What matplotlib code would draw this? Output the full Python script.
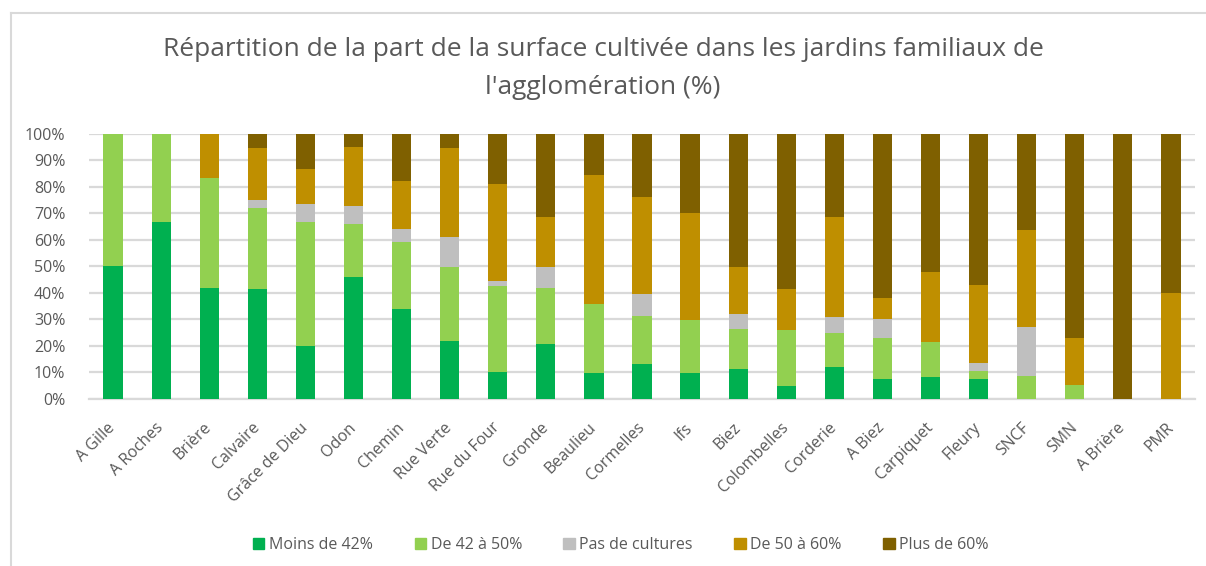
import numpy as np
import matplotlib
matplotlib.use("Agg")
import matplotlib.pyplot as plt
from matplotlib.lines import Line2D

plt.rcParams['font.family'] = ['Open Sans', 'DejaVu Sans']

# Data (% of gardens per class)
jardins = ["A Gille", "A Roches", "Brière", "Calvaire", "Grâce de Dieu", "Odon",
           "Chemin", "Rue Verte", "Rue du Four", "Gronde", "Beaulieu", "Cormelles",
           "Ifs", "Biez", "Colombelles", "Corderie", "A Biez", "Carpiquet",
           "Fleury", "SNCF", "SMN", "A Brière", "PMR"]
moins_42 = [50.0, 66.7, 41.7, 41.4, 20.0, 45.8, 34.0, 21.9, 10.3, 20.8, 9.8, 13.1,
            9.8, 11.4, 5.0, 12.2, 7.4, 8.2, 7.4, 0.0, 0.0, 0.0, 0.0]
de_42_50 = [50.0, 33.3, 41.6, 30.6, 46.7, 20.1, 25.1, 27.8, 32.2, 21.0, 25.9, 18.1,
            19.8, 14.9, 20.9, 12.6, 15.4, 13.3, 3.3, 8.6, 5.3, 0.0, 0.0]
pas_cult = [0.0, 0.0, 0.0, 2.8, 6.6, 6.8, 4.8, 11.3, 2.0, 7.9, 0.0, 8.4,
            0.0, 5.6, 0.0, 5.9, 7.5, 0.0, 2.8, 18.4, 0.0, 0.0, 0.0]
de_50_60 = [0.0, 0.0, 16.7, 19.8, 13.3, 22.3, 18.1, 33.6, 36.4, 18.7, 48.8, 36.4,
            40.3, 17.8, 15.7, 38.0, 7.7, 26.2, 29.4, 36.5, 17.7, 0.0, 40.0]
plus_60 = [0.0, 0.0, 0.0, 5.4, 13.4, 5.0, 18.0, 5.4, 19.1, 31.6, 15.5, 24.0,
           30.1, 50.3, 58.4, 31.3, 62.0, 52.3, 57.1, 36.5, 77.0, 100.0, 60.0]

series = [("Moins de 42%", moins_42, "#00B050"),
          ("De 42 à 50%", de_42_50, "#92D050"),
          ("Pas de cultures", pas_cult, "#BFBFBF"),
          ("De 50 à 60%", de_50_60, "#BF8F00"),
          ("Plus de 60%", plus_60, "#7F6000")]

txt = "#595959"
fig = plt.figure(figsize=(12.06, 5.66), dpi=100)
ax = fig.add_axes([89/1206, 1 - 399/566, (1195 - 89)/1206, (399 - 133.5)/566])

x = np.arange(len(jardins))
bottom = np.zeros(len(jardins))
for name, vals, col in series:
    vals = np.array(vals)
    ax.bar(x, vals, 0.4, bottom=bottom, color=col, label=name, zorder=3)
    bottom += vals

ax.set_xlim(-0.5, len(jardins) - 0.5)
ax.set_ylim(0, 100)
ax.set_yticks(np.arange(0, 101, 10))
ax.set_yticklabels([f"{v}%" for v in range(0, 101, 10)], color=txt, fontsize=11.5)
ax.yaxis.grid(True, color="#D9D9D9", linewidth=1.6, zorder=0)
ax.tick_params(axis='y', length=0, pad=17)
ax.set_xticks(x)
ax.set_xticklabels(jardins, rotation=45, ha='right', va='center',
                   rotation_mode='anchor', color=txt, fontsize=11.5)
ax.tick_params(axis='x', length=0, pad=19)
for s in ["top", "right", "left"]:
    ax.spines[s].set_visible(False)
ax.spines["bottom"].set_color("#D9D9D9")
ax.spines["bottom"].set_linewidth(1.6)

fig.text(0.5, 1 - 50/566, "Répartition de la part de la surface cultivée dans les jardins familiaux de",
         ha='center', va='center', fontsize=19, color=txt)
fig.text(0.5, 1 - 88/566, "l'agglomération (%)", ha='center', va='center', fontsize=19, color=txt)

handles = [plt.Rectangle((0, 0), 1, 1, color=c) for _, _, c in series]
fig.legend(handles, [n for n, _, _ in series], loc='center', bbox_to_anchor=(621/1206, 1 - 545/566),
           ncol=5, frameon=False, fontsize=11.5, labelcolor=txt, handlelength=0.7,
           handleheight=0.7, handletextpad=0.3, columnspacing=2.6)

# chart border
fig.add_artist(Line2D([11/1206, 11/1206], [0, 1 - 13/566], transform=fig.transFigure,
                      color="#D9D9D9", linewidth=1.5))
fig.add_artist(Line2D([11/1206, 1], [1 - 13/566, 1 - 13/566], transform=fig.transFigure,
                      color="#D9D9D9", linewidth=1.5))

fig.savefig("out.png", dpi=100)
